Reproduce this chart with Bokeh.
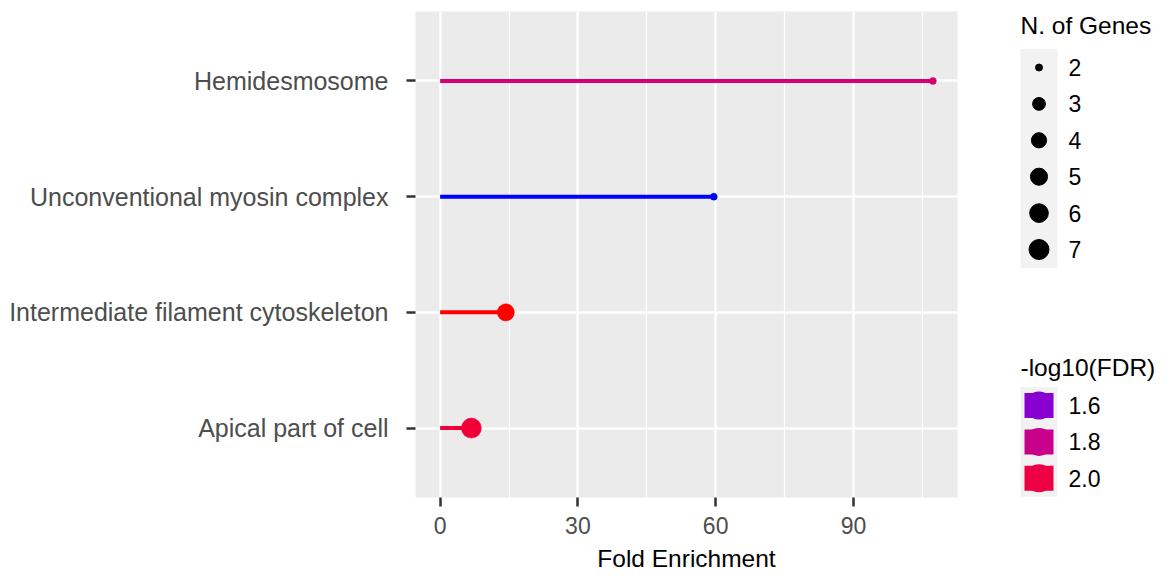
import numpy as np
from bokeh.plotting import figure
from bokeh.layouts import row
from bokeh.models import Range1d, FixedTicker, ColumnDataSource
from bokeh.core.properties import value
from bokeh.embed import file_html
from bokeh.resources import INLINE

# GO cellular-component enrichment results
terms = [
    "Hemidesmosome",
    "Unconventional myosin complex",
    "Intermediate filament cytoskeleton",
    "Apical part of cell",
]
fold_enrichment = [107.3, 59.6, 14.3, 6.8]
n_genes = [2, 2, 5, 7]
neg_log10_fdr = [1.87, 1.48, 2.13, 2.03]

x_ticks = [0, 30, 60, 90]
x_minor_ticks = [15, 45, 75, 105]
size_breaks = [2, 3, 4, 5, 6, 7]
color_breaks = [1.6, 1.8, 2.0]

FONT = "Liberation Sans"

# page geometry (pixels)
TOP, FRAME_H, BOTTOM = 11, 486, 80
LEFT, FRAME_W, RIGHT = 415, 542, 43
LEG_W = 168


# --- colour gradient blue -> red interpolated in CIELAB ---
def _hex_to_lab(h):
    rgb = np.array([int(h[i:i + 2], 16) for i in (1, 3, 5)]) / 255.0
    lin = np.where(rgb <= 0.04045, rgb / 12.92, ((rgb + 0.055) / 1.055) ** 2.4)
    m = np.array([[0.4124, 0.3576, 0.1805],
                  [0.2126, 0.7152, 0.0722],
                  [0.0193, 0.1192, 0.9505]])
    xyz = m @ lin / np.array([0.95047, 1.0, 1.08883])
    f = np.where(xyz > 0.008856, np.cbrt(xyz), 7.787 * xyz + 16 / 116)
    return np.array([116 * f[1] - 16, 500 * (f[0] - f[1]), 200 * (f[1] - f[2])])


def _lab_to_hex(lab):
    L, a, b = lab
    fy = (L + 16) / 116
    fx = fy + a / 500
    fz = fy - b / 200
    f = np.array([fx, fy, fz])
    xyz = np.where(f ** 3 > 0.008856, f ** 3, (f - 16 / 116) / 7.787)
    xyz = xyz * np.array([0.95047, 1.0, 1.08883])
    minv = np.array([[3.2406, -1.5372, -0.4986],
                     [-0.9689, 1.8758, 0.0415],
                     [0.0557, -0.2040, 1.0570]])
    lin = np.clip(minv @ xyz, 0, 1)
    rgb = np.where(lin <= 0.0031308, 12.92 * lin, 1.055 * lin ** (1 / 2.4) - 0.055)
    rgb = np.clip(np.round(rgb * 255), 0, 255).astype(int)
    return "#%02x%02x%02x" % tuple(rgb)


LAB_LOW = _hex_to_lab("#0000ff")
LAB_HIGH = _hex_to_lab("#ff0000")
c_min, c_max = min(neg_log10_fdr), max(neg_log10_fdr)


def fdr_color(v):
    t = (v - c_min) / (c_max - c_min)
    t = min(max(t, 0.0), 1.0)
    return _lab_to_hex(LAB_LOW + t * (LAB_HIGH - LAB_LOW))


# --- point size: area scale, diameter in screen pixels ---
s_min, s_max = min(size_breaks[0], min(n_genes)), max(n_genes)


def point_diameter(n):
    size = 1 + 5 * np.sqrt((n - s_min) / (s_max - s_min))
    return 4.4 + 2.6 * size


ys = list(range(len(terms), 0, -1))
src = ColumnDataSource(dict(
    term=terms,
    fe=fold_enrichment,
    y=ys,
    zero=[0] * len(terms),
    color=[fdr_color(v) for v in neg_log10_fdr],
    size=[point_diameter(n) for n in n_genes],
))

fe_max = max(fold_enrichment)
pad = 0.05 * fe_max
p = figure(
    frame_width=FRAME_W, frame_height=FRAME_H,
    x_range=Range1d(-pad, fe_max + pad),
    y_range=Range1d(0.4, len(terms) + 0.6),
    output_backend="svg", toolbar_location=None,
    min_border_left=LEFT, min_border_right=RIGHT,
    min_border_top=TOP, min_border_bottom=BOTTOM,
)
p.background_fill_color = "#ebebeb"
p.border_fill_color = "white"
p.outline_line_color = None

# grid
p.xgrid.ticker = FixedTicker(ticks=x_ticks, minor_ticks=x_minor_ticks)
p.xgrid.grid_line_color = "white"
p.xgrid.grid_line_width = 2.4
p.xgrid.minor_grid_line_color = "white"
p.xgrid.minor_grid_line_width = 1.2
p.ygrid.ticker = FixedTicker(ticks=ys)
p.ygrid.grid_line_color = "white"
p.ygrid.grid_line_width = 2.4

# lollipops
p.segment(x0="zero", y0="y", x1="fe", y1="y", color="color", line_width=4, source=src)
p.scatter(x="fe", y="y", size="size", fill_color="color", line_color="color", line_width=0.5, source=src)

# axes
xa = p.xaxis[0]
xa.ticker = FixedTicker(ticks=x_ticks)
xa.axis_label = "Fold Enrichment"
xa.axis_label_text_font = FONT
xa.axis_label_text_font_style = "normal"
xa.axis_label_text_font_size = "24.5px"
xa.axis_label_text_color = "black"
xa.axis_label_standoff = 8
xa.major_label_text_font = FONT
xa.major_label_text_font_size = "23px"
xa.major_label_text_color = "#4d4d4d"
xa.major_label_standoff = 10
xa.axis_line_color = None
xa.major_tick_in = 0
xa.major_tick_out = 9
xa.major_tick_line_color = "#333333"
xa.major_tick_line_width = 2.5
xa.minor_tick_line_color = None

ya = p.yaxis[0]
ya.ticker = FixedTicker(ticks=ys)
ya.major_label_overrides = {y: t for y, t in zip(ys, terms)}
ya.major_label_text_font = FONT
ya.major_label_text_font_size = "25px"
ya.major_label_text_color = "#4d4d4d"
ya.major_label_standoff = 18
ya.axis_line_color = None
ya.major_tick_in = 0
ya.major_tick_out = 9
ya.major_tick_line_color = "#333333"
ya.major_tick_line_width = 2.5
ya.minor_tick_line_color = None

# --- legends panel: data coordinates equal page pixels ---
lf = figure(
    frame_width=LEG_W, frame_height=FRAME_H,
    x_range=Range1d(LEFT + FRAME_W + RIGHT, LEFT + FRAME_W + RIGHT + LEG_W),
    y_range=Range1d(TOP + FRAME_H, TOP),
    x_axis_type=None, y_axis_type=None,
    output_backend="svg", toolbar_location=None,
    min_border_left=0, min_border_right=0,
    min_border_top=TOP, min_border_bottom=BOTTOM,
)
lf.outline_line_color = None
lf.grid.visible = False
lf.background_fill_color = "white"
lf.border_fill_color = "white"

key_x = 1038.5
label_x = 1068
step = 36.4

# size legend
lf.text(x=[1020], y=[25], text=["N. of Genes"], text_font=value(FONT),
        text_font_size="24.5px", text_baseline="middle", text_align="left", text_color="black")
size_y = [67 + step * i for i in range(len(size_breaks))]
lf.quad(left=[1020], right=[1057], top=[size_y[0] - 18.5], bottom=[size_y[-1] + 18.5],
        fill_color="#f2f2f2", line_color=None)
lf.scatter(x=[key_x] * len(size_breaks), y=size_y,
           size=[point_diameter(n) for n in size_breaks], color="black")
lf.text(x=[label_x] * len(size_breaks), y=size_y, text=[str(b) for b in size_breaks],
        text_font=value(FONT), text_font_size="23px", text_baseline="middle",
        text_align="left", text_color="black")

# colour legend
lf.text(x=[1020], y=[367], text=["-log10(FDR)"], text_font=value(FONT),
        text_font_size="24.5px", text_baseline="middle", text_align="left", text_color="black")
col_y = [405 + step * i for i in range(len(color_breaks))]
lf.quad(left=[1020], right=[1057], top=[col_y[0] - 18.5], bottom=[col_y[-1] + 18.5],
        fill_color="#f2f2f2", line_color=None)
key_colors = [fdr_color(v) for v in color_breaks]
lf.rect(x=[key_x] * len(color_breaks), y=col_y, width=29, height=25,
        fill_color=key_colors, line_color=None)
lf.scatter(x=[key_x] * len(color_breaks), y=col_y, size=28,
           fill_color=key_colors, line_color=None)
lf.text(x=[label_x] * len(color_breaks), y=col_y, text=["%.1f" % b for b in color_breaks],
        text_font=value(FONT), text_font_size="23px", text_baseline="middle",
        text_align="left", text_color="black")

layout = row(p, lf, spacing=0)
open("out.html", "w").write(file_html(layout, INLINE))
